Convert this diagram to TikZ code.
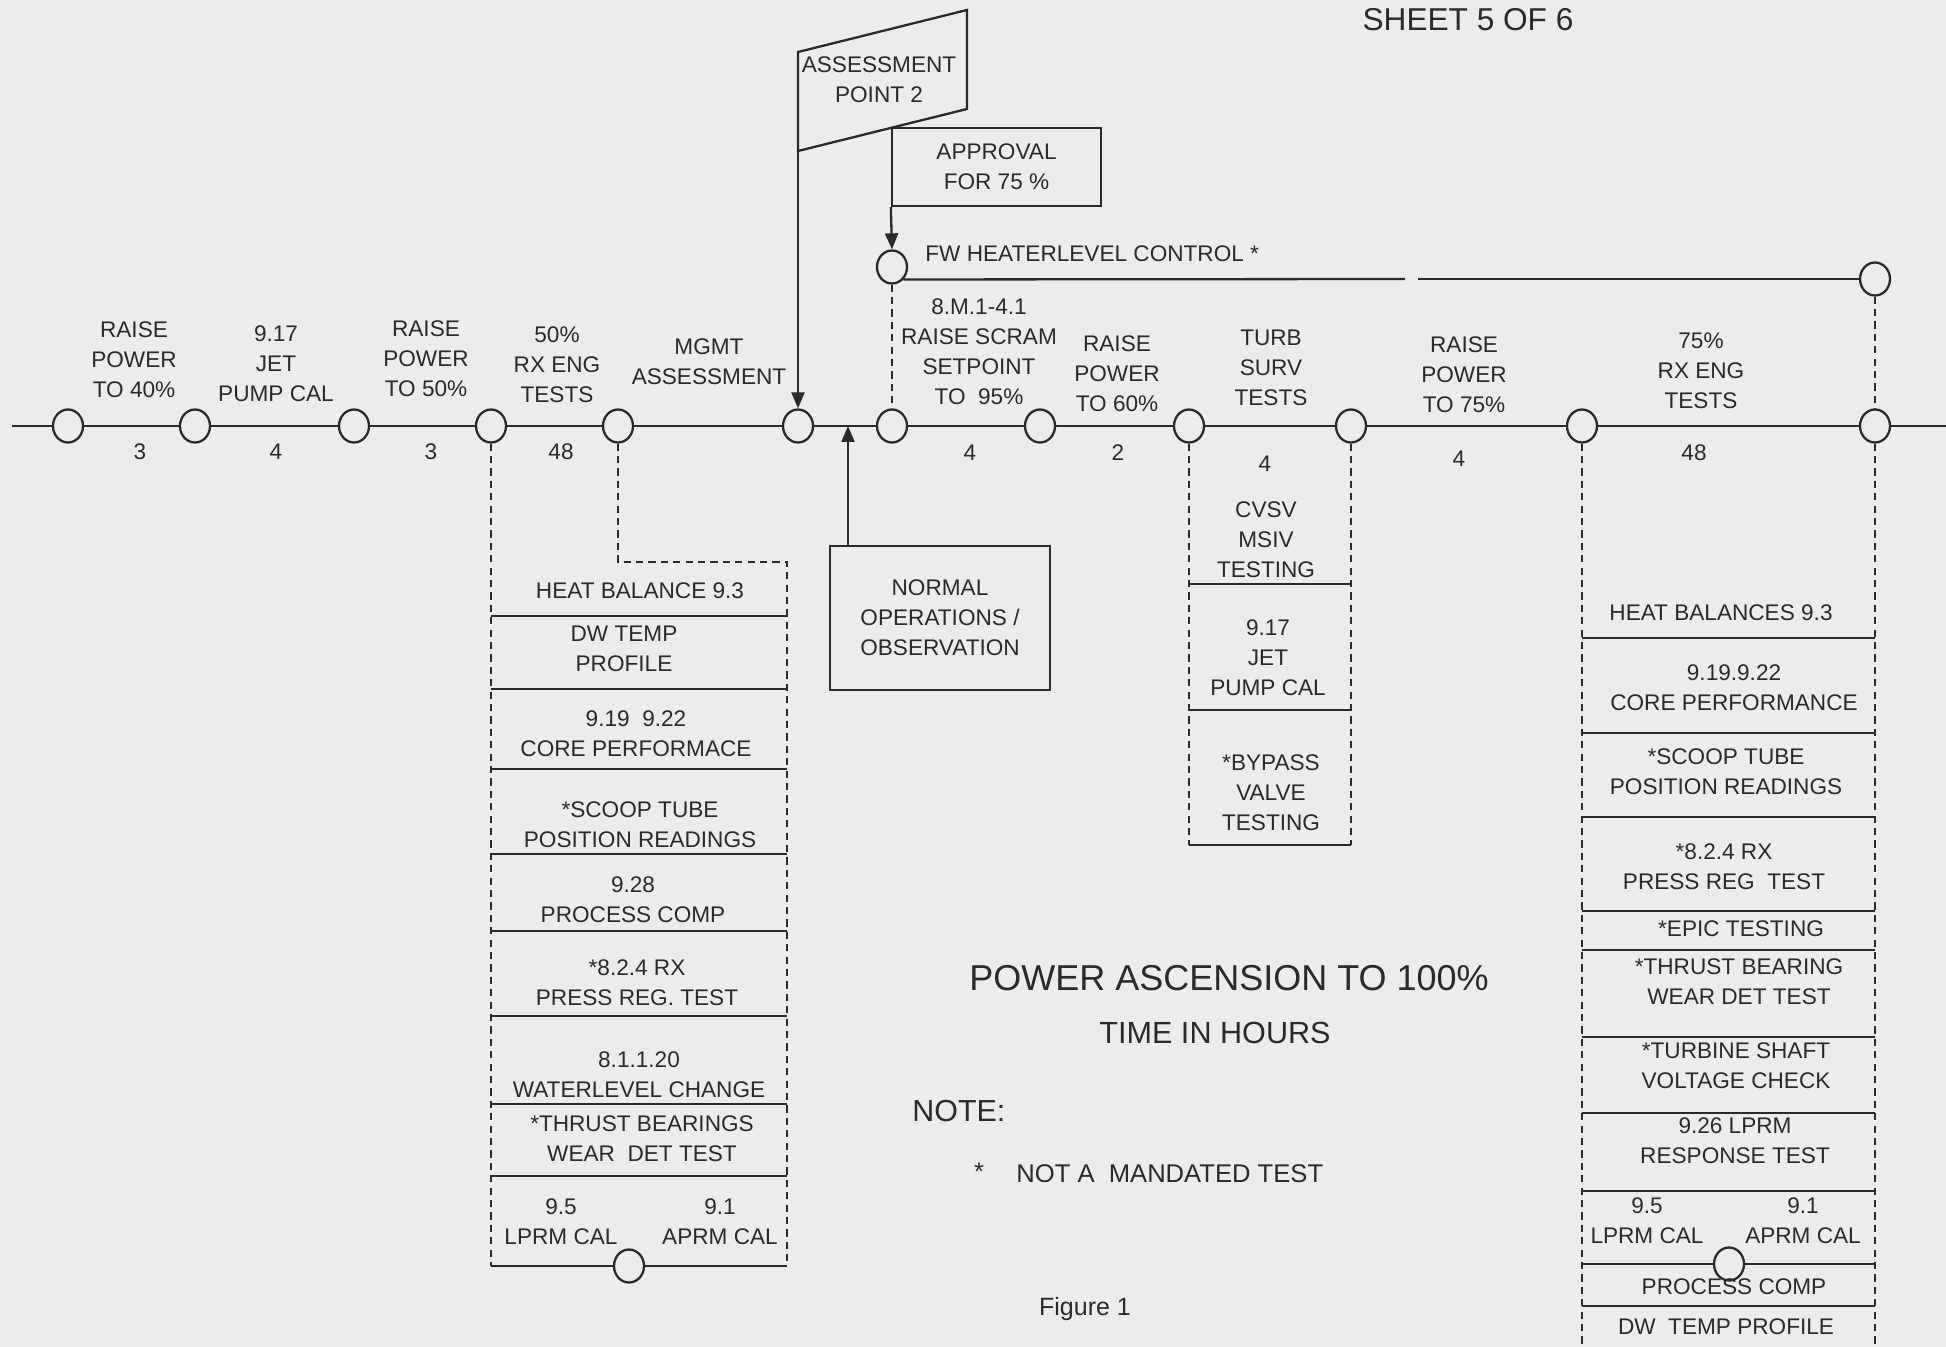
\documentclass[tikz,border=0pt]{standalone}
\usepackage{fontspec}
\setmainfont{Liberation Sans}
\usetikzlibrary{shapes.geometric,arrows.meta}
\definecolor{paper}{RGB}{236,236,234}
\definecolor{ink}{RGB}{42,42,42}
\begin{document}
\begin{tikzpicture}[x=0.5pt,y=-0.5pt,
  every node/.style={text=ink},
  lbl/.style={font=\fontsize{11.3}{15}\selectfont, align=center, inner sep=0pt},
  pt/.style={ellipse, draw=ink, line width=1.15pt, minimum width=15pt, minimum height=16.5pt, inner sep=0pt, fill=paper},
  ln/.style={draw=ink, line width=1.15pt},
  dl/.style={draw=ink, line width=1.4pt, dash pattern=on 3.6pt off 2.6pt},
  arr/.style={-{Triangle[length=8pt,width=6.5pt]}},
  box/.style={draw=ink, line width=1.15pt, rectangle, inner sep=0pt, align=center, font=\fontsize{11.3}{15}\selectfont}
]
\fill[paper] (0,0) rectangle (1946,1347);
\useasboundingbox (0,0) rectangle (1946,1347);

% ---------- main time line ----------
\foreach \n/\x in {1/68,2/195,3/354,4/491,5/618,6/798,7/892,8/1040,9/1189,10/1351,11/1582,12/1875}
  \node[pt] (m\n) at (\x,426) {};
\coordinate (mstart) at (12,426);
\coordinate (mend) at (1946,426);
\draw[ln] (mstart) -- (m1) -- (m2) -- (m3) -- (m4) -- (m5) -- (m6) -- (m7) -- (m8) -- (m9) -- (m10) -- (m11) -- (m12) -- (mend);

% labels above
\node[lbl] (t1) at (134,360) {RAISE\\POWER\\TO 40\%};
\node[lbl] (t2) at (276,364) {9.17\\JET\\PUMP CAL};
\node[lbl] (t3) at (426,359) {RAISE\\POWER\\TO 50\%};
\node[lbl] (t4) at (557,365) {50\%\\RX ENG\\TESTS};
\node[lbl] (t5) at (709,362) {MGMT\\ASSESSMENT};
\node[lbl] (t6) at (979,352) {8.M.1-4.1\\RAISE SCRAM\\SETPOINT\\TO~ 95\%};
\node[lbl] (t7) at (1117,374) {RAISE\\POWER\\TO 60\%};
\node[lbl] (t8) at (1271,368) {TURB\\SURV\\TESTS};
\node[lbl] (t9) at (1464,375) {RAISE\\POWER\\TO 75\%};
\node[lbl] (t10) at (1701,371) {75\%\\RX ENG\\TESTS};

% hours below
\node[lbl] (h1) at (140,452) {3};
\node[lbl] (h2) at (276,452) {4};
\node[lbl] (h3) at (431,452) {3};
\node[lbl] (h4) at (561,452) {48};
\node[lbl] (h5) at (970,453) {4};
\node[lbl] (h6) at (1118,453) {2};
\node[lbl] (h7) at (1265,464) {4};
\node[lbl] (h8) at (1459,459) {4};
\node[lbl] (h9) at (1694,453) {48};

% ---------- assessment point flag ----------
\coordinate (fTL) at (798,52);
\coordinate (fTR) at (967,10);
\coordinate (fBR) at (967,109);
\coordinate (fBL) at (798,151);
\draw[ln] (fBL) -- (fTL) -- (fTR) -- (fBR) -- cycle;
\node[lbl] (ap) at (879,80) {ASSESSMENT\\POINT 2};
\draw[ln,arr] (fBL) -- (m6.north);

% ---------- approval and FW heater level ----------
\node[box, minimum width=104.5pt, minimum height=39pt] (appr) at (996.5,167) {APPROVAL\\FOR 75 \%};
\node[pt] (fw) at (892,267) {};
\draw[ln,arr] (appr.south west) -- (fw.north);
\node[lbl, anchor=west] (fwt) at (925,254) {FW HEATERLEVEL CONTROL *};
\node[pt] (rt) at (1875,279) {};
\coordinate (g1) at (1405,279);
\coordinate (g2) at (1418,279);
\draw[ln] (fw.south east) -- (g1);
\draw[ln] (g2) -- (rt.west);
\draw[dl] (fw) -- (m7);
\draw[dl] (rt) -- (m12);

% ---------- normal operations ----------
\node[box, minimum width=110pt, minimum height=72pt] (nops) at (940,618) {NORMAL\\OPERATIONS /\\OBSERVATION};
\coordinate (nj) at (848,426);
\draw[ln,arr] (nops.north -| nj) -- (nj);

% ---------- left test column (50%) ----------
\coordinate (LB1) at (491,1266);
\coordinate (LB2) at (787,1266);
\coordinate (LT1) at (618,562);
\coordinate (LT2) at (787,562);
\draw[dl] (m4) -- (LB1);
\draw[dl] (m5) -- (LT1) -- (LT2) -- (LB2);
\node[pt] (lc) at (629,1266) {};
\draw[ln] (LB1) -- (lc) -- (LB2);
\foreach \y in {616,689,769,854,931,1016,1104,1176}
  \draw[ln] (491,\y) -- (787,\y);
\node[lbl] (l1) at (640,591) {HEAT BALANCE 9.3};
\node[lbl] (l2) at (624,649) {DW TEMP\\PROFILE};
\node[lbl] (l3) at (636,734) {9.19~ 9.22\\CORE PERFORMACE};
\node[lbl] (l4) at (640,825) {*SCOOP TUBE\\POSITION READINGS};
\node[lbl] (l5) at (633,900) {9.28\\PROCESS COMP};
\node[lbl] (l6) at (637,983) {*8.2.4 RX\\PRESS REG. TEST};
\node[lbl] (l7) at (639,1075) {8.1.1.20\\WATERLEVEL CHANGE};
\node[lbl] (l8) at (642,1139) {*THRUST BEARINGS\\WEAR~ DET TEST};
\node[lbl] (l9) at (561,1222) {9.5\\LPRM CAL};
\node[lbl] (l10) at (720,1222) {9.1\\APRM CAL};

% ---------- middle test column (turbine) ----------
\coordinate (MB1) at (1189,845);
\coordinate (MB2) at (1351,845);
\draw[dl] (m9) -- (MB1);
\draw[dl] (m10) -- (MB2);
\draw[ln] (MB1) -- (MB2);
\foreach \y in {584,710}
  \draw[ln] (1189,\y) -- (1351,\y);
\node[lbl] (c1) at (1266,540) {CVSV\\MSIV\\TESTING};
\node[lbl] (c2) at (1268,658) {9.17\\JET\\PUMP CAL};
\node[lbl] (c3) at (1271,793) {*BYPASS\\VALVE\\TESTING};

% ---------- right test column (75%) ----------
\coordinate (RB1) at (1582,1347);
\coordinate (RB2) at (1875,1347);
\draw[dl] (m11) -- (RB1);
\draw[dl] (m12) -- (RB2);
\foreach \y in {638,733,817,911,950,1037,1113,1191,1306}
  \draw[ln] (1582,\y) -- (1875,\y);
\node[pt] (rc) at (1729,1264) {};
\coordinate (RL) at (1582,1264);
\coordinate (RR) at (1875,1264);
\draw[ln] (RL) -- (rc) -- (RR);
\node[lbl] (r1) at (1721,613) {HEAT BALANCES 9.3};
\node[lbl] (r2) at (1734,688) {9.19.9.22\\CORE PERFORMANCE};
\node[lbl] (r3) at (1726,772) {*SCOOP TUBE\\POSITION READINGS};
\node[lbl] (r4) at (1724,867) {*8.2.4 RX\\PRESS REG~ TEST};
\node[lbl] (r5) at (1741,929) {*EPIC TESTING};
\node[lbl] (r6) at (1739,982) {*THRUST BEARING\\WEAR DET TEST};
\node[lbl] (r7) at (1736,1066) {*TURBINE SHAFT\\VOLTAGE CHECK};
\node[lbl] (r8) at (1735,1141) {9.26 LPRM\\RESPONSE TEST};
\node[lbl] (r9) at (1647,1221) {9.5\\LPRM CAL};
\node[lbl] (r10) at (1803,1221) {9.1\\APRM CAL};
\node[lbl] (r11) at (1734,1287) {PROCESS COMP};
\node[lbl] (r12) at (1726,1327) {DW~ TEMP PROFILE};

% ---------- titles and notes ----------
\node[inner sep=0pt, font=\fontsize{15.8}{18}\selectfont] (sheet) at (1468,20) {SHEET 5 OF 6};
\node[inner sep=0pt, font=\fontsize{18}{21}\selectfont] (title) at (1229,978) {POWER ASCENSION TO 100\%};
\node[inner sep=0pt, font=\fontsize{15.3}{18}\selectfont] (sub) at (1215,1033) {TIME IN HOURS};
\node[inner sep=0pt, anchor=west, font=\fontsize{15.2}{18}\selectfont] (note) at (912,1111) {NOTE:};
\node[inner sep=0pt, font=\fontsize{12.8}{15}\selectfont] (star) at (979,1172) {*};
\node[inner sep=0pt, anchor=west, font=\fontsize{12.8}{15}\selectfont] (notetxt) at (1016,1174) {NOT A~ MANDATED TEST};
\node[inner sep=0pt, font=\fontsize{12.5}{15}\selectfont] (fig) at (1085,1309) {Figure 1};
\end{tikzpicture}
\end{document}
